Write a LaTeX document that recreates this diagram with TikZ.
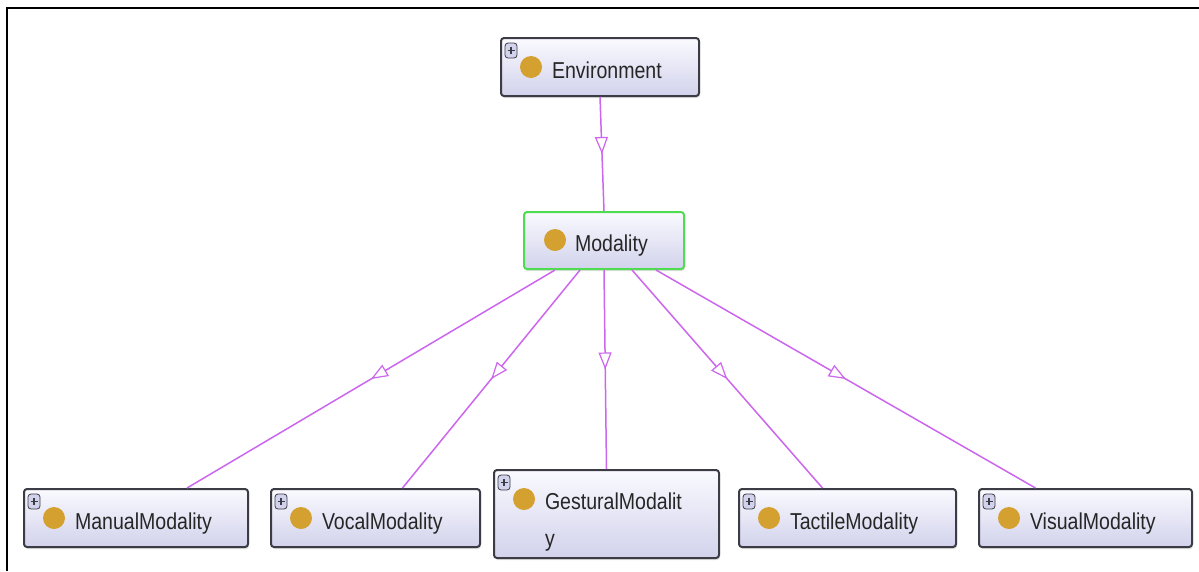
\documentclass[tikz,border=0pt]{standalone}
\usepackage{fontspec}
\newfontfamily\owlfont[FakeStretch=0.85]{Liberation Sans}
\usetikzlibrary{arrows.meta,decorations.markings,shadows}

\definecolor{edgecol}{RGB}{204,102,238}
\definecolor{boxtop}{RGB}{250,250,255}
\definecolor{boxbot}{RGB}{210,210,236}
\definecolor{boxline}{RGB}{60,60,70}
\definecolor{dotcol}{RGB}{212,160,48}
\definecolor{focusgreen}{RGB}{80,220,80}

\tikzset{
  owlbox/.style={draw=boxline, line width=2, rounded corners=3,
    top color=boxtop, bottom color=boxbot, inner sep=0, align=left,
    text=black!85, text height=22, text depth=0,
    font=\owlfont\fontsize{23}{37}\selectfont,
    drop shadow={shadow xshift=1pt, shadow yshift=-2pt, opacity=0.25}},
  classbox/.style={owlbox, path picture={
    \fill[dotcol] ([shift={(30,29)}]path picture bounding box.north west) circle (11);
    \draw[line width=0.8, fill=boxbot] ([shift={(4,5)}]path picture bounding box.north west) rectangle ++(12,15);
    \draw[line width=1.4] ([shift={(6.5,12.5)}]path picture bounding box.north west) -- ++(7,0);
    \draw[line width=1.4] ([shift={(10,9)}]path picture bounding box.north west) -- ++(0,7);
  }},
  focusbox/.style={owlbox, draw=focusgreen, path picture={
    \fill[dotcol] ([shift={(31,28)}]path picture bounding box.north west) circle (11);
  }},
  isa/.style={color=edgecol, line width=1.5, postaction={decorate},
    decoration={markings, mark=at position 0.5 with
      {\arrow{Triangle[open, fill=white, length=17, width=13, line width=1.2]}}}}
}

\begin{document}
\begin{tikzpicture}[x=1pt,y=-1pt]
\useasboundingbox (0,0) rectangle (1199,571);
\draw[line width=2] (7,571) -- (7,8) -- (1199,8);

% classes
\node[classbox, minimum width=198, minimum height=58, text width=96] (env) at (600,67) {Environment};
\node[focusbox, minimum width=160, minimum height=57, text width=58] (mod) at (604,240.5) {Modality};
\node[classbox, minimum width=224, minimum height=58, text width=122] (manual) at (136,518) {ManualModality};
\node[classbox, minimum width=209, minimum height=58, text width=107] (vocal) at (375.5,518) {VocalModality};
\node[classbox, minimum width=225, minimum height=88, text width=123, text depth=32] (gestural) at (606.5,514) {GesturalModalit\\y};
\node[classbox, minimum width=217, minimum height=58, text width=115] (tactile) at (847.5,518) {TactileModality};
\node[classbox, minimum width=213, minimum height=58, text width=111] (visual) at (1085.5,518) {VisualModality};

% subclass links
\draw[isa] (env.south) -- (mod.north);
\draw[isa] ([xshift=-49]mod.south) -- ([xshift=51]manual.north);
\draw[isa] ([xshift=-24]mod.south) -- ([xshift=27]vocal.north);
\draw[isa] (mod.south) -- (gestural.north);
\draw[isa] ([xshift=28]mod.south) -- ([xshift=-25]tactile.north);
\draw[isa] ([xshift=52]mod.south) -- ([xshift=-50]visual.north);
\end{tikzpicture}
\end{document}
